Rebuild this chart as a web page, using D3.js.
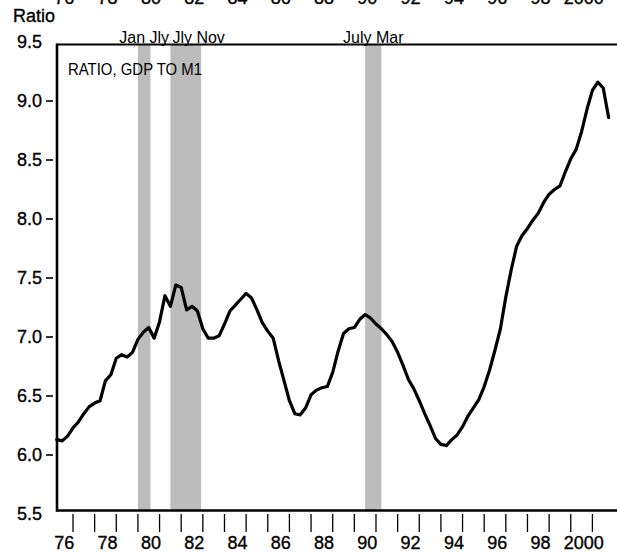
<!DOCTYPE html>
<html><head><meta charset="utf-8">
<script src="https://cdn.jsdelivr.net/npm/d3@7"></script>
<style>
body{margin:0;background:#fff}
svg{display:block}
text{font-family:"Liberation Sans",Arial,Helvetica,sans-serif;fill:#000}
</style>
</head><body>
<svg id="c" width="617" height="552"></svg>
<script>
// ---------------- data ----------------
const firstQuarter = 1976.25;   // 1976 Q2, quarterly observations
const ratio = [
 6.13,6.12,6.16,6.23,6.28,6.35,6.41,6.44,6.46,6.63,
 6.68,6.82,6.85,6.83,6.87,6.98,7.04,7.08,6.99,7.13,
 7.35,7.26,7.44,7.42,7.23,7.26,7.22,7.07,6.99,6.99,
 7.01,7.11,7.22,7.27,7.32,7.37,7.33,7.23,7.12,7.05,
 6.99,6.80,6.63,6.46,6.35,6.34,6.40,6.51,6.55,6.57,
 6.58,6.70,6.88,7.03,7.07,7.08,7.15,7.19,7.16,7.11,
 7.07,7.02,6.96,6.87,6.76,6.64,6.56,6.46,6.35,6.25,
 6.14,6.09,6.08,6.13,6.17,6.24,6.33,6.40,6.47,6.58,
 6.72,6.89,7.07,7.34,7.57,7.77,7.86,7.92,7.99,8.05,
 8.14,8.21,8.25,8.28,8.40,8.51,8.59,8.74,8.93,9.09,
 9.16,9.11,8.86
];
const yTicks = [5.5,6.0,6.5,7.0,7.5,8.0,8.5,9.0,9.5];
const yTickLabels = ["5.5","6.0","6.5","7.0","7.5","8.0","8.5","9.0","9.5"];
const xTickYears = [1977,1978,1979,1980,1981,1982,1983,1984,1985,1986,1987,1988,1989,
                    1990,1991,1992,1993,1994,1995,1996,1997,1998,1999,2000,2001];
const xLabelYears = [1976,1978,1980,1982,1984,1986,1988,1990,1992,1994,1996,1998,2000];
const xLabels = ["76","78","80","82","84","86","88","90","92","94","96","98","2000"];
const recessionStart = [1980.0, 1981.5, 1990.5];
const recessionEnd   = [1980.58, 1982.92, 1991.25];
const recessionLabels = ["Jan Jly","Jly Nov","July Mar"];
const yAxisTitle = "Ratio";
const seriesTitle = "RATIO, GDP TO M1";

// ---------------- layout ----------------
const svg = d3.select("#c");
const frame = {left:57, right:617, top:44.5, bottom:510.5};
const x = d3.scaleLinear().domain([1977, 2001]).range([73, 592.4]);
const y = d3.scaleLinear().domain([5.5, 9.5]).range([514, 42]);
const labelAnchor = ["middle","start","middle"];

// recession bands
svg.append("g").selectAll("rect").data(recessionStart).join("rect")
  .attr("x", (d,i) => x(d))
  .attr("width", (d,i) => x(recessionEnd[i]) - x(d))
  .attr("y", frame.top)
  .attr("height", frame.bottom - frame.top)
  .attr("fill", "#bcbcbc");

// recession labels
svg.append("g").selectAll("text").data(recessionLabels).join("text")
  .attr("x", (d,i) => labelAnchor[i] === "middle"
        ? (x(recessionStart[i]) + x(recessionEnd[i])) / 2
        : x(recessionStart[i]) + 2)
  .attr("y", 43)
  .attr("text-anchor", (d,i) => labelAnchor[i])
  .attr("font-size", 16)
  .text(d => d);

// frame
const fr = svg.append("g").attr("stroke", "#000").attr("fill", "none");
fr.append("line").attr("x1", frame.left).attr("x2", frame.right)
  .attr("y1", frame.top).attr("y2", frame.top).attr("stroke-width", 2);
fr.append("line").attr("x1", frame.left).attr("x2", frame.right)
  .attr("y1", frame.bottom).attr("y2", frame.bottom).attr("stroke-width", 2.6);
fr.append("line").attr("x1", frame.left).attr("x2", frame.left)
  .attr("y1", frame.top - 1).attr("y2", frame.bottom + 1.3).attr("stroke-width", 2.6);

// y axis ticks and labels
const innerY = yTicks.filter(v => v > 5.5 && v < 9.5);
svg.append("g").selectAll("line").data(innerY).join("line")
  .attr("x1", 46).attr("x2", 53)
  .attr("y1", d => y(d)).attr("y2", d => y(d))
  .attr("stroke", "#000").attr("stroke-width", 1.6);
svg.append("g").selectAll("text").data(yTicks).join("text")
  .attr("x", 42).attr("y", d => y(d))
  .attr("dy", "0.36em")
  .attr("text-anchor", "end")
  .attr("font-size", 18)
  .attr("stroke", "#000").attr("stroke-width", 0.35)
  .text((d,i) => yTickLabels[i]);

// x axis ticks
svg.append("g").selectAll("line").data(xTickYears).join("line")
  .attr("x1", d => x(d)).attr("x2", d => x(d))
  .attr("y1", 514).attr("y2", 532)
  .attr("stroke", "#000").attr("stroke-width", 1.3);

// x labels bottom & top
[549, 4].forEach(by => {
  svg.append("g").selectAll("text").data(xLabelYears).join("text")
    .attr("x", d => x(d + 0.6))
    .attr("y", by)
    .attr("text-anchor", "middle")
    .attr("font-size", 18)
    .attr("stroke", "#000").attr("stroke-width", 0.35)
    .text((d,i) => xLabels[i]);
});

// titles
svg.append("text").attr("x", 13).attr("y", 22).attr("font-size", 18)
  .attr("stroke", "#000").attr("stroke-width", 0.35).text(yAxisTitle);
svg.append("text").attr("x", 68).attr("y", 75).attr("font-size", 17)
  .attr("textLength", 134).attr("lengthAdjust", "spacingAndGlyphs")
  .text(seriesTitle);

// series line
const line = d3.line()
  .x((d,i) => x(firstQuarter + i / 4))
  .y(d => y(d));
svg.append("path").datum(ratio)
  .attr("d", line)
  .attr("fill", "none")
  .attr("stroke", "#000")
  .attr("stroke-width", 3.2)
  .attr("stroke-linejoin", "round")
  .attr("stroke-linecap", "round");
</script>
</body></html>
